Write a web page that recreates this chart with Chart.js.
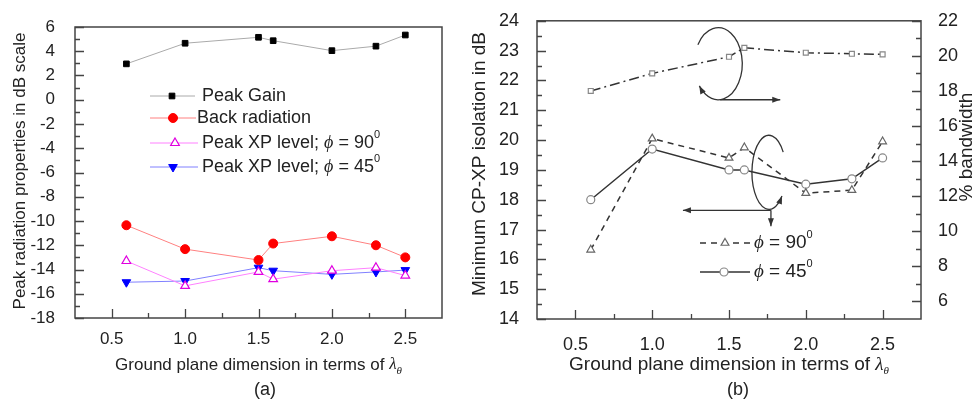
<!DOCTYPE html>
<html>
<head>
<meta charset="utf-8">
<script src="https://cdn.jsdelivr.net/npm/chart.js@4.4.1/dist/chart.umd.min.js"></script>
<style>
html,body{margin:0;padding:0;background:#fff;}
#wrap{position:relative;width:974px;height:402px;overflow:hidden;}
#boxA{position:absolute;left:0;top:0;}
#boxB{position:absolute;left:470px;top:0;}
</style>
</head>
<body>
<div id="wrap">
  <div id="boxA"><canvas id="chartA" width="470" height="402"></canvas></div>
  <div id="boxB"><canvas id="chartB" width="504" height="402"></canvas></div>
</div>
<script>
// ===== Data =====
const groundSize = [0.6, 1.0, 1.5, 1.6, 2.0, 2.3, 2.5];

// (a) radiation properties, dB
const peakGain      = [2.96, 4.66, 5.15, 4.87, 4.05, 4.42, 5.34];
const backRadiation = [-10.35, -12.32, -13.22, -11.86, -11.26, -12.0, -13.0];
const xpPhi90       = [-13.3, -15.35, -14.2, -14.8, -14.1, -13.85, -14.5];
const xpPhi45       = [-15.05, -14.95, -13.85, -14.1, -14.4, -14.2, -14.05];

// (b) CP-XP isolation (dB) and % bandwidth
const isoPhi90  = [16.32, 20.05, 19.4, 19.75, 18.22, 18.32, 19.95];
const isoPhi45  = [18.0, 19.7, 19.0, 19.0, 18.52, 18.7, 19.4];
const bandwidth = [18.0, 19.0, 19.95, 20.46, 20.18, 20.12, 20.09];

// axis ticks
const xTicks   = [0.5, 1.0, 1.5, 2.0, 2.5];
const yTicksA  = [-18, -16, -14, -12, -10, -8, -6, -4, -2, 0, 2, 4, 6];
const yTicksBL = [14, 15, 16, 17, 18, 19, 20, 21, 22, 23, 24];
const yTicksBR = [6, 8, 10, 12, 14, 16, 18, 20, 22];

const SANS = '"Liberation Sans", Arial, sans-serif';
const SERIF = '"Liberation Serif", "Times New Roman", serif';
Chart.defaults.font.family = SANS;

const pts = ys => groundSize.map((x, i) => ({x, y: ys[i]}));

// ===== Helpers =====
function richText(ctx, parts, x, y, size, align){
  const fontOf = p => (p.i ? 'italic ' : '') + Math.round((p.sup || p.sub) ? size * 0.62 : size) + 'px ' + (p.serif ? SERIF : SANS);
  let w = 0;
  parts.forEach(p => { ctx.font = fontOf(p); w += ctx.measureText(p.t).width; });
  let cx = align === 'center' ? x - w / 2 : x;
  ctx.textBaseline = 'middle'; ctx.textAlign = 'left';
  parts.forEach(p => {
    ctx.font = fontOf(p);
    const dy = p.sup ? -size * 0.42 : p.sub ? size * 0.35 : 0;
    ctx.fillText(p.t, cx, y + dy);
    cx += ctx.measureText(p.t).width;
  });
}

function vText(ctx, parts, x, y, size){
  ctx.save(); ctx.translate(x, y); ctx.rotate(-Math.PI / 2);
  richText(ctx, parts, 0, 0, size, 'center');
  ctx.restore();
}

function drawFrame(ctx, a){
  ctx.strokeStyle = '#444'; ctx.lineWidth = 1.5;
  ctx.strokeRect(a.left, a.top, a.right - a.left, a.bottom - a.top);
}

// inward major + minor ticks
function drawTicks(ctx, a, s, majors, side){
  const minors = majors.slice(1).map((v, i) => (v + majors[i]) / 2);
  ctx.strokeStyle = '#444'; ctx.lineWidth = 1.3;
  ctx.beginPath();
  [[majors, 9], [minors, 5]].forEach(([vals, len]) => vals.forEach(v => {
    const p = Math.round(s.getPixelForValue(v)) + 0.5;
    if (side === 'bottom'){ ctx.moveTo(p, a.bottom); ctx.lineTo(p, a.bottom - len); }
    else if (side === 'left'){ ctx.moveTo(a.left, p); ctx.lineTo(a.left + len, p); }
    else { ctx.moveTo(a.right, p); ctx.lineTo(a.right - len, p); }
  }));
  ctx.stroke();
}

function legendEntry(ctx, ds, x0, x1, mx, y){
  ctx.save();
  ctx.strokeStyle = ds.borderColor; ctx.lineWidth = ds.borderWidth;
  ctx.setLineDash(ds.borderDash || []);
  ctx.beginPath(); ctx.moveTo(x0, y); ctx.lineTo(x1, y); ctx.stroke();
  ctx.setLineDash([]);
  ctx.fillStyle = ds.pointBackgroundColor; ctx.strokeStyle = ds.pointBorderColor;
  ctx.lineWidth = ds.pointBorderWidth;
  Chart.helpers.drawPoint(ctx, {pointStyle: ds.pointStyle, radius: ds.pointRadius,
    rotation: ds.pointRotation || 0, borderWidth: ds.pointBorderWidth}, mx, y);
  ctx.restore();
}

function arrowHead(ctx, x, y, dx, dy){
  const m = Math.hypot(dx, dy), ux = dx / m, uy = dy / m, len = 8, half = 3;
  ctx.beginPath();
  ctx.moveTo(x, y);
  ctx.lineTo(x - ux * len - uy * half, y - uy * len + ux * half);
  ctx.lineTo(x - ux * len + uy * half, y - uy * len - ux * half);
  ctx.closePath(); ctx.fill();
}

const rad = d => d * Math.PI / 180;
const PHI = 'ϕ';
const lambdaTitle = [{t: 'Ground plane dimension in terms of '}, {t: 'λ', i: 1, serif: 1}, {t: 'θ', i: 1, serif: 1, sub: 1}];

// ===== Panel (a) overlay =====
const panelA = {
  id: 'panelA',
  afterDraw(chart){
    const {ctx, chartArea: a, scales: {x, y}} = chart;
    ctx.save();
    drawFrame(ctx, a);
    drawTicks(ctx, a, x, xTicks, 'bottom');
    drawTicks(ctx, a, y, yTicksA, 'left');
    ctx.fillStyle = '#222';
    richText(ctx, lambdaTitle, (a.left + a.right) / 2, 365, 17, 'center');
    richText(ctx, [{t: '(a)'}], 265, 390, 18, 'center');
    vText(ctx, [{t: 'Peak radiation properties in dB scale'}], 20, 171, 17);

    const ds = chart.data.datasets;
    legendEntry(ctx, ds[0], 150, 195, 172, 96);
    legendEntry(ctx, ds[1], 150, 196, 173, 118);
    legendEntry(ctx, ds[2], 150, 198, 175, 143);
    legendEntry(ctx, ds[3], 150, 198, 173, 167);
    ctx.fillStyle = '#222';
    richText(ctx, [{t: 'Peak Gain'}], 202, 96, 18, 'left');
    richText(ctx, [{t: 'Back radiation'}], 197, 118, 18, 'left');
    richText(ctx, [{t: 'Peak XP level; '}, {t: PHI, i: 1, serif: 1}, {t: ' = 90'}, {t: '0', sup: 1}], 202, 143, 18, 'left');
    richText(ctx, [{t: 'Peak XP level; '}, {t: PHI, i: 1, serif: 1}, {t: ' = 45'}, {t: '0', sup: 1}], 202, 167, 18, 'left');
    ctx.restore();
  }
};

// ===== Panel (b) overlay =====
const panelB = {
  id: 'panelB',
  afterDraw(chart){
    const {ctx, chartArea: a, scales: {x, yL, yR}} = chart;
    ctx.save();
    drawFrame(ctx, a);
    drawTicks(ctx, a, x, xTicks, 'bottom');
    drawTicks(ctx, a, yL, yTicksBL, 'left');
    drawTicks(ctx, a, yR, yTicksBR, 'right');
    ctx.fillStyle = '#222';
    richText(ctx, lambdaTitle, (a.left + a.right) / 2, 365, 18.5, 'center');
    richText(ctx, [{t: '(b)'}], 268, 390, 18, 'center');
    vText(ctx, [{t: 'Minimum CP-XP isolation in dB'}], 10, 164, 18.5);
    vText(ctx, [{t: '% bandwidth'}], 497, 147, 18.5);

    // curved arrows: bandwidth -> right axis, isolation -> left axis
    ctx.strokeStyle = '#333'; ctx.fillStyle = '#333'; ctx.lineWidth = 1.3;
    let cx = x.getPixelForValue(1.43), cy = yL.getPixelForValue(22.56), rx = 24, ry = 36;
    ctx.beginPath(); ctx.ellipse(cx, cy, rx, ry, 0, rad(212), rad(502)); ctx.stroke();
    let t = rad(502);
    arrowHead(ctx, cx + rx * Math.cos(t), cy + ry * Math.sin(t), -rx * Math.sin(t), ry * Math.cos(t));
    ctx.beginPath(); ctx.moveTo(cx + 2, cy + ry); ctx.lineTo(cx + 62, cy + ry); ctx.stroke();
    arrowHead(ctx, cx + 62, cy + ry, 1, 0);

    cx = x.getPixelForValue(1.76); cy = yL.getPixelForValue(18.92); rx = 17; ry = 37;
    ctx.beginPath(); ctx.ellipse(cx, cy, rx, ry, 0, rad(-33), rad(40), true); ctx.stroke();
    t = rad(40);
    arrowHead(ctx, cx + rx * Math.cos(t), cy + ry * Math.sin(t), rx * Math.sin(t), -ry * Math.cos(t));
    const by = cy + 38;
    ctx.beginPath(); ctx.moveTo(cx + 2, by); ctx.lineTo(cx - 86, by); ctx.stroke();
    arrowHead(ctx, cx - 86, by, -1, 0);
    ctx.beginPath(); ctx.moveTo(cx + 2, by); ctx.lineTo(cx + 2, by + 16); ctx.stroke();
    arrowHead(ctx, cx + 2, by + 16, 0, 1);

    const ds = chart.data.datasets;
    legendEntry(ctx, ds[1], 230, 280, 255, 243);
    legendEntry(ctx, ds[2], 230, 280, 254, 272);
    ctx.fillStyle = '#222';
    richText(ctx, [{t: PHI, i: 1, serif: 1}, {t: ' = 90'}, {t: '0', sup: 1}], 284, 243, 18.5, 'left');
    richText(ctx, [{t: PHI, i: 1, serif: 1}, {t: ' = 45'}, {t: '0', sup: 1}], 284, 272, 18.5, 'left');
    ctx.restore();
  }
};

function xScale(size, height, padding){
  return {
    type: 'linear', min: 0.25, max: 2.75,
    grid: {display: false}, border: {display: false},
    afterBuildTicks: s => { s.ticks = xTicks.map(v => ({value: v})); },
    afterFit: s => { s.height = height; },
    ticks: {callback: v => v.toFixed(1), color: '#222', font: {size}, padding, maxRotation: 0, autoSkip: false}
  };
}

function yScale(pos, min, max, ticks, width, size, padding){
  return {
    type: 'linear', position: pos, min, max,
    grid: {display: false}, border: {display: false},
    afterBuildTicks: s => { s.ticks = ticks.map(v => ({value: v})); },
    afterFit: s => { s.width = width; },
    ticks: {color: '#222', font: {size}, padding, autoSkip: false}
  };
}

// ===== Chart (a) =====
new Chart(document.getElementById('chartA'), {
  type: 'line',
  data: {
    datasets: [
      {label: 'Peak Gain', data: pts(peakGain), borderColor: '#aaaaaa', borderWidth: 1,
       pointStyle: 'rect', pointRadius: 4, pointBackgroundColor: '#000', pointBorderColor: '#000', pointBorderWidth: 1},
      {label: 'Back radiation', data: pts(backRadiation), borderColor: '#ff8080', borderWidth: 1,
       pointStyle: 'circle', pointRadius: 4.5, pointBackgroundColor: '#ff0000', pointBorderColor: '#ff0000', pointBorderWidth: 1},
      {label: 'Peak XP level; phi = 90', data: pts(xpPhi90), borderColor: '#ff80ff', borderWidth: 1,
       pointStyle: 'triangle', pointRadius: 5, pointBackgroundColor: '#ffffff', pointBorderColor: '#e000e0', pointBorderWidth: 1.2},
      {label: 'Peak XP level; phi = 45', data: pts(xpPhi45), borderColor: '#8080ff', borderWidth: 1,
       pointStyle: 'triangle', pointRotation: 180, pointRadius: 5, pointBackgroundColor: '#0000ff', pointBorderColor: '#0000ff', pointBorderWidth: 1}
    ]
  },
  options: {
    responsive: false, animation: false,
    layout: {padding: {top: 27, right: 28, left: 0, bottom: 0}},
    plugins: {legend: {display: false}, tooltip: {enabled: false}},
    elements: {line: {tension: 0}},
    scales: {
      x: xScale(17, 84, 3),
      y: yScale('left', -18, 6, yTicksA, 75, 17, 12)
    }
  },
  plugins: [panelA]
});

// ===== Chart (b) =====
new Chart(document.getElementById('chartB'), {
  type: 'line',
  data: {
    datasets: [
      {label: '% bandwidth', data: pts(bandwidth), yAxisID: 'yR', borderColor: '#333', borderWidth: 1.5,
       borderDash: [10, 4, 2, 4], pointStyle: 'rect', pointRadius: 3.5,
       pointBackgroundColor: '#fff', pointBorderColor: '#888', pointBorderWidth: 1.2},
      {label: 'phi = 90', data: pts(isoPhi90), yAxisID: 'yL', borderColor: '#333', borderWidth: 1.5,
       borderDash: [6, 5], pointStyle: 'triangle', pointRadius: 4.5,
       pointBackgroundColor: '#fff', pointBorderColor: '#666', pointBorderWidth: 1.2},
      {label: 'phi = 45', data: pts(isoPhi45), yAxisID: 'yL', borderColor: '#333', borderWidth: 1.5,
       pointStyle: 'circle', pointRadius: 4,
       pointBackgroundColor: '#fff', pointBorderColor: '#888', pointBorderWidth: 1.2}
    ]
  },
  options: {
    responsive: false, animation: false,
    layout: {padding: {top: 14, right: 0, left: 0, bottom: 0}},
    plugins: {legend: {display: false}, tooltip: {enabled: false}},
    elements: {line: {tension: 0}},
    scales: {
      x: xScale(18, 83, 7),
      yL: yScale('left', 14, 24, yTicksBL, 67, 18, 10),
      yR: yScale('right', 5, 22, yTicksBR, 53, 18, 9)
    }
  },
  plugins: [panelB]
});
</script>
</body>
</html>
